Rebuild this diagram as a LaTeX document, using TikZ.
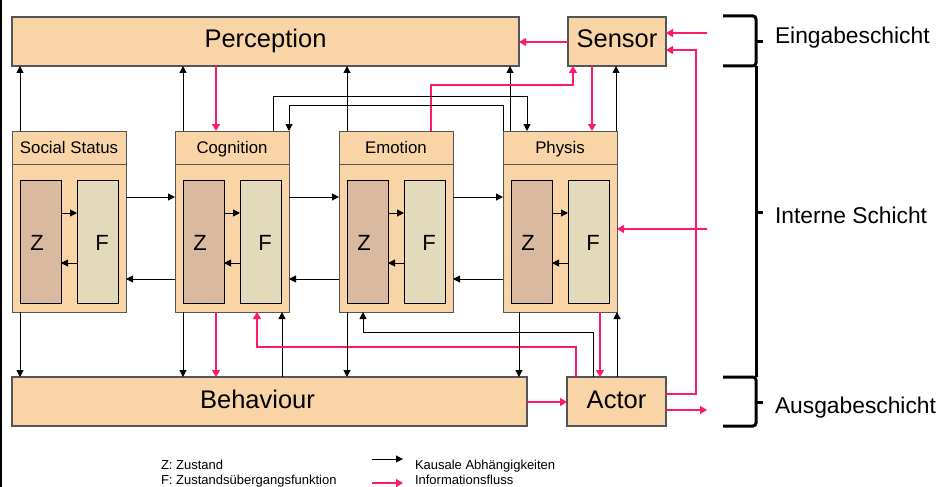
\documentclass[tikz,border=0pt]{standalone}
\usepackage{fontspec}
\setmainfont{Liberation Sans}
\usetikzlibrary{arrows.meta}
\definecolor{boxfill}{RGB}{248,212,166}
\definecolor{zfill}{RGB}{217,185,160}
\definecolor{ffill}{RGB}{226,218,186}
\definecolor{infopink}{RGB}{255,25,110}
\definecolor{boxline}{RGB}{85,85,85}
\newcommand{\myfs}[1]{\fontsize{#1}{#1}\selectfont}
\begin{document}
\begin{tikzpicture}[x=1pt,y=-1pt,
  every node/.style={inner sep=0pt, outer sep=0pt},
  bigbox/.style={draw=boxline, fill=boxfill, line width=1.2pt, minimum height=49pt, anchor=north west, font=\myfs{25.5}, text height=18.5pt, text depth=5.5pt},
  hdr/.style={draw=boxline, fill=boxfill, line width=1pt, minimum width=114pt, minimum height=33pt, anchor=north west, font=\myfs{16.8}, text height=12pt, text depth=0.4pt},
  body/.style={draw=boxline, fill=boxfill, line width=1pt, minimum width=114pt, minimum height=148pt, anchor=north west},
  zbox/.style={draw=black, fill=zfill, line width=0.8pt, minimum width=41pt, minimum height=123pt, anchor=north west},
  fbox/.style={draw=black, fill=ffill, line width=0.8pt, minimum width=41pt, minimum height=123pt, anchor=north west},
  zft/.style={font=\myfs{22}},
  causal/.style={draw=black, line width=1pt, -{Triangle[length=7pt,width=7pt]}},
  info/.style={draw=infopink, line width=1.3pt, -{Triangle[length=7pt,width=8pt]}},
  bracket/.style={draw=black, line width=3pt, rounded corners=3pt},
  layer/.style={font=\myfs{22.8}, anchor=base west},
  legend/.style={font=\myfs{13}, anchor=base west}]
\useasboundingbox (0,0) rectangle (942,487);
\fill[white] (0,0) rectangle (942,487);
\draw[line width=2pt] (1,0) -- (1,487);

% main boxes
\node[bigbox, minimum width=507pt] (perc) at (12,17) {Perception};
\node[bigbox, minimum width=98pt] (sens) at (568,17) {Sensor};
\node[bigbox, minimum width=515pt, label={[font=\myfs{25.5}, text height=18.5pt, text depth=5.5pt, xshift=-12pt]center:Behaviour}] (beh) at (12,377) {};
\node[bigbox, minimum width=99pt] (act) at (567,377) {Actor};

% modules
\foreach \n/\x/\t in {soc/12/Social Status, cog/175/Cognition, emo/339/Emotion, phy/503/Physis}{
  \node[hdr] (\n-h) at (\x,131) {\t};
  \node[body] (\n-b) at (\x,164) {};
  \node[zbox] (\n-z) at (\x+8,180) {};
  \node[fbox] (\n-f) at (\x+65,180) {};
  \node[zft] (\n-zt) at (\x+25,243) {Z};
  \node[zft] (\n-ft) at (\x+90,243) {F};
  \draw[causal] (\n-z.east |- 0,213) -- (\n-f.west |- 0,213);
  \draw[causal] (\n-f.west |- 0,263) -- (\n-z.east |- 0,263);
}

% between modules
\draw[causal] (soc-b.east |- 0,197) -- (cog-b.west |- 0,197);
\draw[causal] (cog-b.east |- 0,197) -- (emo-b.west |- 0,197);
\draw[causal] (emo-b.east |- 0,197) -- (phy-b.west |- 0,197);
\draw[causal] (cog-b.west |- 0,279) -- (soc-b.east |- 0,279);
\draw[causal] (emo-b.west |- 0,279) -- (cog-b.east |- 0,279);
\draw[causal] (phy-b.west |- 0,279) -- (emo-b.east |- 0,279);

% top connections
\draw[causal] (soc-h.north -| 20,0) -- (perc.south -| 20,0);
\draw[causal] (cog-h.north -| 183,0) -- (perc.south -| 183,0);
\draw[info] (perc.south -| 216,0) -- (cog-h.north -| 216,0);
\draw[causal] (emo-h.north -| 347,0) -- (perc.south -| 347,0);
\draw[causal] (phy-h.north -| 510,0) -- (perc.south -| 510,0);
\draw[info] (sens.south -| 592,0) -- (phy-h.north -| 592,0);
\draw[causal] (phy-h.north -| 616,0) -- (sens.south -| 616,0);
\draw[info] (emo-h.north -| 431,0) |- (573,85) -- (sens.south -| 573,0);
\draw[causal] (cog-h.north -| 273,0) |- (527,96) -- (phy-h.north -| 527,0);
\draw[causal] (phy-h.north west) |- (289,105) -- (cog-h.north east);
\draw[info] (sens.west |- 0,42) -- (perc.east |- 0,42);

% right side
\coordinate (inA) at (707,33);
\coordinate (inB) at (707,229);
\coordinate (outA) at (707,410);
\draw[info] (inA) -- (sens.east |- inA);
\draw[info] (inB) -- (phy-b.east |- inB);
\draw[info] (act.east |- 0,394) -| (696,50) -- (sens.east |- 0,50);
\draw[info] (act.east |- outA) -- (outA);

% bottom connections
\draw[causal] (soc-b.south -| 20,0) -- (beh.north -| 20,0);
\draw[causal] (cog-b.south -| 183,0) -- (beh.north -| 183,0);
\draw[info] (cog-b.south -| 216,0) -- (beh.north -| 216,0);
\draw[causal] (beh.north -| 282,0) -- (cog-b.south -| 282,0);
\draw[info] (act.north -| 576,0) |- (257,347) -- (cog-b.south -| 257,0);
\draw[causal] (emo-b.south -| 347,0) -- (beh.north -| 347,0);
\draw[causal] (act.north -| 593,0) |- (363,332) -- (emo-b.south -| 363,0);
\draw[causal] (phy-b.south -| 519,0) -- (beh.north -| 519,0);
\draw[info] (phy-b.south -| 600,0) -- (act.north -| 600,0);
\draw[causal] (act.north -| 617,0) -- (phy-b.south -| 617,0);
\draw[info] (beh.east |- 0,402) -- (act.west |- 0,402);

% layer brackets
\draw[bracket] (723,16) -| (756,66) -- (723,66);
\draw[bracket] (756,66) -- (756,377);
\draw[bracket] (723,377) -| (756,426) -- (723,426);
\draw[line width=3pt] (756,42) -- (763,42);
\draw[line width=3pt] (756,212) -- (763,212);
\draw[line width=3pt] (756,402) -- (763,402);
\node[layer] (l1) at (775,44) {Eingabeschicht};
\node[layer] (l2) at (775,223) {Interne Schicht};
\node[layer] (l3) at (775,413) {Ausgabeschicht};

% legend
\node[legend] (lz) at (161,469) {Z: Zustand};
\node[legend] (lf) at (161,484) {F: Zustandsübergangsfunktion};
\node[legend] (lk) at (415,469) {Kausale Abhängigkeiten};
\node[legend] (li) at (415,484) {Informationsfluss};
\coordinate (k1) at (372,459);
\coordinate (k2) at (403,459);
\coordinate (i1) at (372,483);
\coordinate (i2) at (403,483);
\draw[causal] (k1) -- (k2);
\draw[info] (i1) -- (i2);
\end{tikzpicture}
\end{document}
